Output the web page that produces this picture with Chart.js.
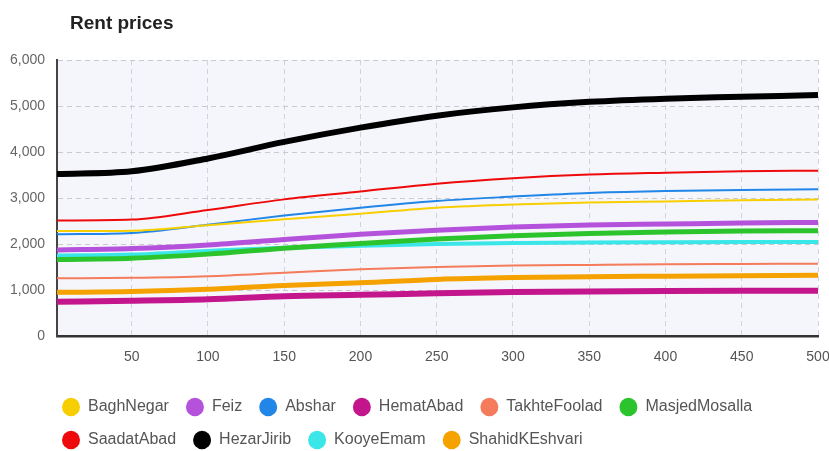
<!DOCTYPE html>
<html>
<head>
<meta charset="utf-8">
<script src="https://cdn.jsdelivr.net/npm/chart.js@4"></script>
<style>
  html, body { margin: 0; padding: 0; background: #fff; }
  #wrap { position: relative; width: 829px; height: 451px; }
  #title {
    position: absolute; left: 70px; top: 12px; margin: 0;
    font: bold 19px "Liberation Sans", Arial, sans-serif; color: #222;
  }
</style>
</head>
<body>
<div id="wrap">
  <h1 id="title">Rent prices</h1>
  <canvas id="rentChart" width="829" height="451"></canvas>
</div>
<script>
const days = [1, 50, 100, 150, 200, 250, 300, 350, 400, 450, 500];
const dayTicks = [50, 100, 150, 200, 250, 300, 350, 400, 450, 500];

const districts = ["BaghNegar", "Feiz", "Abshar", "HematAbad", "TakhteFoolad",
  "MasjedMosalla", "SaadatAbad", "HezarJirib", "KooyeEmam", "ShahidKEshvari"];

const baghNegar     = [2280, 2290, 2410, 2540, 2660, 2790, 2860, 2900, 2925, 2950, 2970];
const feiz          = [1870, 1900, 1980, 2100, 2210, 2300, 2370, 2415, 2435, 2455, 2470];
const abshar        = [2210, 2240, 2420, 2620, 2790, 2935, 3030, 3110, 3150, 3175, 3190];
const hematAbad     = [745, 765, 797, 865, 895, 928, 955, 970, 978, 982, 985];
const takhteFoolad  = [1255, 1265, 1300, 1375, 1450, 1500, 1530, 1545, 1558, 1565, 1572];
const masjedMosalla = [1665, 1690, 1780, 1910, 2010, 2110, 2180, 2230, 2260, 2280, 2290];
const saadatAbad    = [2510, 2530, 2740, 2970, 3140, 3310, 3430, 3510, 3550, 3580, 3595];
const hezarJirib    = [3520, 3580, 3860, 4220, 4530, 4790, 4970, 5090, 5160, 5200, 5240];
const kooyeEmam     = [1750, 1770, 1850, 1920, 1960, 2000, 2020, 2035, 2040, 2043, 2045];
const shahidKEshvari = [950, 965, 1015, 1100, 1155, 1230, 1270, 1290, 1300, 1310, 1320];

const series = [baghNegar, feiz, abshar, hematAbad, takhteFoolad,
  masjedMosalla, saadatAbad, hezarJirib, kooyeEmam, shahidKEshvari];

const colors = ["#f7cf00", "#b452dc", "#2186e8", "#c4168c", "#f47b5c",
  "#2cc42c", "#ee0a0a", "#000000", "#3ae6e8", "#f5a100"];
const widths = [2, 5, 2, 6, 2, 5, 2, 6, 4, 5];

const datasets = districts.map((name, i) => ({
  label: name,
  data: days.map((d, j) => ({ x: d, y: series[i][j] })),
  borderColor: colors[i],
  backgroundColor: colors[i],
  borderWidth: widths[i],
  pointRadius: 0,
  cubicInterpolationMode: "monotone"
}));

// light tinted background behind the plot
const plotBg = {
  id: "plotBg",
  beforeDraw(chart) {
    const { ctx, chartArea: a } = chart;
    ctx.save();
    ctx.fillStyle = "#f5f6fb";
    ctx.fillRect(a.left, a.top, a.right - a.left, a.bottom - a.top);
    ctx.restore();
  }
};

// move the legend rows in line with the plot's left edge
const legendShift = {
  id: "legendShift",
  afterLayout(chart) {
    chart.legend.left += 45;
    chart.legend.right += 45;
  }
};

const tickFont = { family: "'Liberation Sans', Arial", size: 14 };

new Chart(document.getElementById("rentChart"), {
  type: "line",
  data: { datasets },
  plugins: [plotBg, legendShift],
  options: {
    responsive: false,
    animation: false,
    layout: { padding: { left: 0, right: 0, top: 60, bottom: -7 } },
    scales: {
      x: {
        type: "linear",
        min: 1,
        max: 500,
        afterFit: s => {
          s.height = 46;
          s.paddingLeft = 0;
          s.paddingRight = 11;
        },
        afterBuildTicks: s => { s.ticks = dayTicks.map(v => ({ value: v })); },
        ticks: {
          autoSkip: false,
          padding: 13,
          color: "#555",
          font: tickFont,
          maxRotation: 0
        },
        grid: { color: "#d2d3da", drawTicks: false },
        border: { color: "#333", width: 2.5, dash: [5, 4] }
      },
      y: {
        min: 0,
        max: 6000,
        afterFit: s => { s.width = 57; },
        ticks: { stepSize: 1000, padding: 12, color: "#666", font: tickFont },
        grid: { color: "#c9cad0", drawTicks: false },
        border: { color: "#444", width: 2, dash: [5, 4] }
      }
    },
    plugins: {
      title: { display: false },
      tooltip: { enabled: false },
      legend: {
        position: "bottom",
        align: "start",
        labels: {
          usePointStyle: true,
          pointStyle: "circle",
          pointStyleWidth: 18,
          boxHeight: 13,
          padding: 17,
          color: "#555",
          font: { family: "'Liberation Sans', Arial", size: 16 },
          generateLabels: chart =>
            Chart.defaults.plugins.legend.labels.generateLabels(chart)
              .map(l => Object.assign(l, { lineWidth: 0 }))
        }
      }
    }
  }
});
</script>
</body>
</html>
